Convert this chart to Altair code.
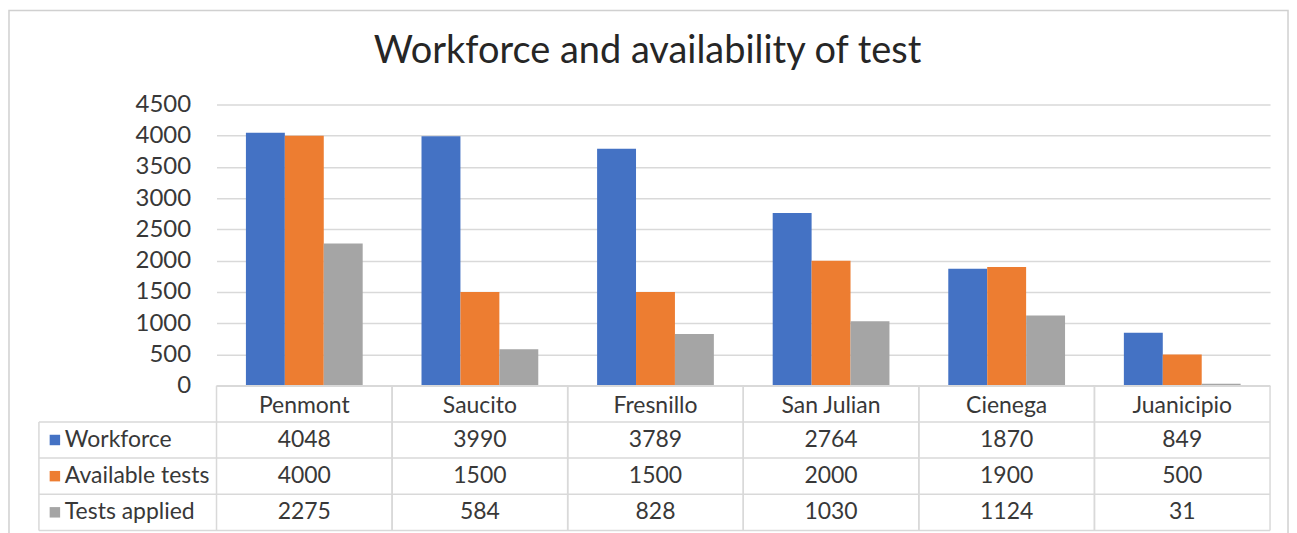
import altair as alt
import pandas as pd

categories = ["Penmont", "Saucito", "Fresnillo", "San Julian", "Cienega", "Juanicipio"]
series = ["Workforce", "Available tests", "Tests applied"]
workforce = [4048, 3990, 3789, 2764, 1870, 849]
available = [4000, 1500, 1500, 2000, 1900, 500]
applied = [2275, 584, 828, 1030, 1124, 31]
colors = ["#4472C4", "#ED7D31", "#A5A5A5"]
y_ticks = [0, 500, 1000, 1500, 2000, 2500, 3000, 3500, 4000, 4500]
title_text = "Workforce and availability of test"

FONT = "Lato"
TXT = "#383838"
GRID = "#D9D9D9"
W, H, TH = 1056, 282, 145

rows = []
for si, (s, vals) in enumerate(zip(series, [workforce, available, applied])):
    for c, v in zip(categories, vals):
        rows.append({"cat": c, "series": s, "value": v, "row": si + 1.5})
df = pd.DataFrame(rows)
ser_df = pd.DataFrame({"series": series, "row": [1.5, 2.5, 3.5]})
cat_df = pd.DataFrame({"cat": categories, "row": [0.55] * len(categories)})
hlines = pd.DataFrame({"r": [1, 2, 3, 4]})

color = alt.Color("series:N", scale=alt.Scale(domain=series, range=colors), legend=None)

# ---------- top: bars ----------
border = alt.Chart(pd.DataFrame({"a": [0]})).mark_rect(
    fill="transparent", stroke="#D0D0D0", strokeWidth=1.5
).encode(x=alt.value(-208), x2=alt.value(1074), y=alt.value(-94), y2=alt.value(440))

title = alt.Chart(pd.DataFrame({"t": [title_text]})).mark_text(
    font=FONT, fontSize=38, color="#262626", baseline="middle", align="center"
).encode(x=alt.value(432), y=alt.value(-53), text="t:N")

bars = alt.Chart(df).mark_bar().encode(
    x=alt.X("cat:N", sort=categories,
            scale=alt.Scale(paddingInner=0.335, paddingOuter=0.1675), axis=None),
    xOffset=alt.XOffset("series:N", sort=series),
    y=alt.Y("value:Q", scale=alt.Scale(domain=[0, 4500], nice=False),
            axis=alt.Axis(values=y_ticks, format="d", title=None, domain=False, ticks=False,
                          labelFont=FONT, labelFontSize=24, labelColor=TXT,
                          labelPadding=26, gridColor=GRID, gridWidth=1.5)),
    color=color,
)
top = alt.layer(border, bars, title).properties(width=W, height=H)

# ---------- bottom: data table ----------
xcat = alt.X("cat:N", sort=categories,
             scale=alt.Scale(paddingInner=0, paddingOuter=0), axis=None)
yrow = alt.Y("row:Q", scale=alt.Scale(domain=[0, 4], reverse=True, nice=False), axis=None)

h_rules = alt.Chart(hlines).mark_rule(color=GRID, strokeWidth=1.5).encode(
    x=alt.value(-178), x2=alt.value(W),
    y=alt.Y("r:Q", scale=alt.Scale(domain=[0, 4], reverse=True, nice=False), axis=None),
)
top_rule = alt.Chart(pd.DataFrame({"r": [0]})).mark_rule(color=GRID, strokeWidth=1.5).encode(
    x=alt.value(0), x2=alt.value(W), y=alt.value(0)
)
v_rules0 = alt.Chart(pd.DataFrame({"cat": categories})).mark_rule(color=GRID, strokeWidth=1.5).encode(
    x=alt.X("cat:N", sort=categories, bandPosition=0,
            scale=alt.Scale(paddingInner=0, paddingOuter=0), axis=None),
    y=alt.value(0), y2=alt.value(TH),
)
v_rules1 = alt.Chart(pd.DataFrame({"cat": categories})).mark_rule(color=GRID, strokeWidth=1.5).encode(
    x=alt.X("cat:N", sort=categories, bandPosition=1,
            scale=alt.Scale(paddingInner=0, paddingOuter=0), axis=None),
    y=alt.value(0), y2=alt.value(TH),
)
left_rule = alt.Chart(pd.DataFrame({"r": [0]})).mark_rule(color=GRID, strokeWidth=1.5).encode(
    x=alt.value(-178), y=alt.value(TH / 4), y2=alt.value(TH)
)
header = alt.Chart(cat_df).mark_text(
    font=FONT, fontSize=23, color=TXT, baseline="middle"
).encode(x=xcat, y=yrow, text="cat:N")
values = alt.Chart(df).mark_text(
    font=FONT, fontSize=23, color=TXT, baseline="middle"
).encode(x=xcat, y=yrow, text="value:Q")
squares = alt.Chart(ser_df).mark_square(size=110, opacity=1).encode(
    x=alt.value(-162), y=yrow, color=color
)
labels = alt.Chart(ser_df).mark_text(
    font=FONT, fontSize=23, color=TXT, baseline="middle", align="left"
).encode(x=alt.value(-152), y=yrow, text="series:N")

bottom = alt.layer(h_rules, top_rule, v_rules0, v_rules1, left_rule,
                   header, values, squares, labels).properties(width=W, height=TH)

chart = alt.vconcat(top, bottom, spacing=0, bounds="flush").resolve_scale(
    x="independent", y="independent"
).configure_view(strokeWidth=0).properties(
    padding={"left": 0, "top": 1, "right": 0, "bottom": 0},
    background="white",
)

chart.save("out.html", embed_options={"renderer": "svg", "actions": False})
